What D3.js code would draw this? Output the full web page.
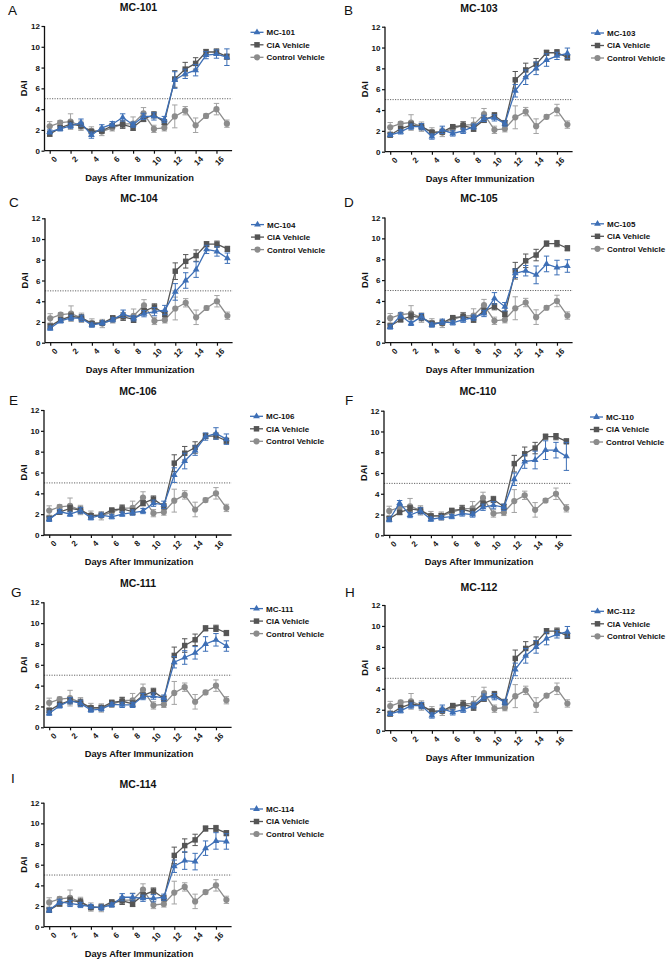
<!DOCTYPE html>
<html>
<head>
<meta charset="utf-8">
<script src="https://cdn.jsdelivr.net/npm/d3@7/dist/d3.min.js"></script>
<style>
  html, body { margin: 0; padding: 0; background: #fff; }
  svg { display: block; font-family: "Liberation Sans", Arial, Helvetica, sans-serif; }
</style>
</head>
<body>
<svg id="chart" width="668" height="963"></svg>
<script>
// ---------------- DATA ----------------
const days = [0, 1, 2, 3, 4, 5, 6, 7, 8, 9, 10, 11, 12, 13, 14, 15, 16, 17];
const xTicks = [0, 2, 4, 6, 8, 10, 12, 14, 16];
const yTicks = [0, 2, 4, 6, 8, 10, 12];
const threshold = 5;

const seriesNames = ["CIA Vehicle", "Control Vehicle"];

const ciaMean = [1.6, 2.2, 2.55, 2.4, 1.85, 1.9, 2.4, 2.5, 2.25, 3.05, 3.45, 2.75, 6.9, 7.85, 8.4, 9.5, 9.5, 9.05];
const ciaErr  = [0.2, 0.2, 0.3, 0.3, 0.2, 0.2, 0.15, 0.35, 0.3, 0.25, 0.3, 0.25, 0.8, 0.65, 0.55, 0.25, 0.3, 0.25];

const ctrlMean = [2.35, 2.7, 2.8, 2.4, 1.9, 1.85, 2.2, 2.55, 2.6, 3.6, 2.1, 2.2, 3.3, 3.85, 2.45, 3.35, 4.0, 2.6];
const ctrlErr  = [0.45, 0.2, 0.75, 0.45, 0.4, 0.4, 0.3, 0.35, 0.65, 0.55, 0.35, 0.3, 1.1, 0.4, 0.7, 0.2, 0.55, 0.35];

const compoundNames = ["MC-101", "MC-103", "MC-104", "MC-105", "MC-106", "MC-110", "MC-111", "MC-112", "MC-114"];
const panelLetters  = ["A", "B", "C", "D", "E", "F", "G", "H", "I"];

const mc101Mean = [1.8, 2.1, 2.4, 2.7, 1.5, 2.2, 2.55, 3.2, 2.5, 3.3, 3.3, 3.0, 6.8, 7.4, 7.75, 9.2, 9.3, 9.0];
const mc101Err  = [0.2, 0.2, 0.25, 0.35, 0.3, 0.3, 0.25, 0.35, 0.25, 0.3, 0.35, 0.3, 0.8, 0.45, 0.55, 0.35, 0.4, 0.8];

const mc103Mean = [1.6, 1.9, 2.4, 2.4, 1.45, 2.1, 1.75, 2.0, 2.4, 3.2, 3.25, 2.7, 5.85, 7.15, 8.0, 8.8, 9.2, 9.45];
const mc103Err  = [0.15, 0.2, 0.25, 0.3, 0.25, 0.35, 0.25, 0.25, 0.25, 0.3, 0.3, 0.25, 0.6, 0.7, 0.6, 0.6, 0.35, 0.5];

const mc104Mean = [1.4, 2.1, 2.4, 2.35, 1.7, 1.9, 2.2, 2.8, 2.35, 2.8, 3.0, 3.15, 4.9, 6.0, 7.05, 9.0, 8.8, 8.15];
const mc104Err  = [0.2, 0.2, 0.25, 0.3, 0.2, 0.2, 0.2, 0.35, 0.25, 0.3, 0.4, 0.45, 0.8, 0.75, 0.75, 0.4, 0.45, 0.5];

const mc105Mean = [1.5, 2.6, 1.85, 2.5, 1.7, 2.0, 1.9, 2.2, 2.4, 2.8, 4.25, 3.45, 6.65, 6.9, 6.5, 7.55, 7.2, 7.35];
const mc105Err  = [0.2, 0.25, 0.2, 0.3, 0.2, 0.25, 0.2, 0.25, 0.25, 0.3, 0.55, 0.4, 0.4, 0.5, 0.85, 0.75, 0.7, 0.6];

const mc106Mean = [1.5, 2.25, 2.0, 2.35, 1.65, 1.9, 1.75, 2.0, 2.15, 2.3, 3.05, 2.9, 5.75, 7.1, 8.1, 9.45, 9.75, 9.2];
const mc106Err  = [0.2, 0.2, 0.2, 0.3, 0.2, 0.2, 0.2, 0.2, 0.25, 0.25, 0.3, 0.35, 0.7, 0.75, 0.45, 0.35, 0.55, 0.5];

const mc110Mean = [1.5, 3.1, 1.95, 2.35, 1.55, 1.7, 1.8, 2.1, 2.0, 2.7, 2.9, 2.7, 5.4, 7.1, 7.25, 8.2, 8.2, 7.6];
const mc110Err  = [0.2, 0.25, 0.25, 0.3, 0.2, 0.2, 0.2, 0.25, 0.25, 0.3, 0.35, 0.3, 0.6, 0.65, 0.85, 0.9, 0.75, 1.35];

const mc111Mean = [1.35, 2.05, 2.55, 2.3, 1.65, 1.75, 2.2, 2.15, 2.15, 2.95, 3.0, 2.8, 6.25, 6.7, 7.15, 8.0, 8.4, 7.8];
const mc111Err  = [0.2, 0.2, 0.3, 0.3, 0.2, 0.2, 0.2, 0.25, 0.25, 0.3, 0.3, 0.3, 0.55, 0.65, 0.6, 0.7, 0.6, 0.5];

const mc112Mean = [1.6, 1.9, 2.4, 2.4, 1.45, 2.1, 1.75, 2.0, 2.4, 3.2, 3.25, 2.7, 5.85, 7.15, 8.0, 8.8, 9.2, 9.45];
const mc112Err  = [0.15, 0.2, 0.25, 0.3, 0.25, 0.35, 0.25, 0.25, 0.25, 0.3, 0.3, 0.25, 0.6, 0.7, 0.6, 0.6, 0.35, 0.5];

const mc114Mean = [1.6, 2.4, 2.25, 2.1, 1.95, 1.85, 2.1, 2.85, 2.85, 2.75, 2.75, 2.85, 5.85, 6.4, 6.3, 7.6, 8.3, 8.25];
const mc114Err  = [0.2, 0.25, 0.3, 0.25, 0.2, 0.25, 0.2, 0.35, 0.35, 0.3, 0.35, 0.3, 0.6, 0.85, 0.8, 0.7, 0.8, 0.75];

const compoundMeans = [mc101Mean, mc103Mean, mc104Mean, mc105Mean, mc106Mean, mc110Mean, mc111Mean, mc112Mean, mc114Mean];
const compoundErrs  = [mc101Err, mc103Err, mc104Err, mc105Err, mc106Err, mc110Err, mc111Err, mc112Err, mc114Err];

// ---------------- LAYOUT (positions only) ----------------
// ax: x of the y-axis line; y12 / y0: pixel of 12 and 0; letterY, titleY: baselines
const layout = [
  { ax: 44.5, y12: 26,    y0: 150.7, letterX: 8,   letterY: 15,    titleY: 11 },
  { ax: 385,  y12: 26.7,  y0: 151.7, letterX: 344, letterY: 15,    titleY: 11.7 },
  { ax: 45,   y12: 218.3, y0: 342.7, letterX: 9,   letterY: 206.5, titleY: 201.7 },
  { ax: 385,  y12: 217.5, y0: 342.7, letterX: 344, letterY: 206.5, titleY: 201.7 },
  { ax: 44,   y12: 410,   y0: 535,   letterX: 9,   letterY: 405,   titleY: 395 },
  { ax: 384,  y12: 410.7, y0: 535.3, letterX: 345, letterY: 405,   titleY: 395 },
  { ax: 44,   y12: 602.3, y0: 727.3, letterX: 11,  letterY: 596.7, titleY: 587.3 },
  { ax: 385,  y12: 605,   y0: 730.7, letterX: 345, letterY: 596.7, titleY: 590.7 },
  { ax: 44,   y12: 802.7, y0: 926.7, letterX: 11,  letterY: 783,   titleY: 788.3 }
];

const COLORS = { mc: "#3d6fb6", cia: "#555555", ctrl: "#8c8c8c", ctrlErr: "#a3a3a3" };
const svg = d3.select("#chart");

function drawSeries(g, x, y, means, errs, color, errColor, symbolType, symSize) {
  const pts = days.map((d, i) => ({ d, v: means[i], e: errs[i] }));
  const line = d3.line().x(p => x(p.d)).y(p => y(p.v));
  const cap = 2.7;
  const eb = g.append("g").attr("stroke", errColor).attr("stroke-width", 1).attr("fill", "none");
  pts.forEach(p => {
    const yt = y(p.v + p.e), yb = y(p.v - p.e), cx = x(p.d);
    eb.append("line").attr("x1", cx).attr("x2", cx).attr("y1", yt).attr("y2", yb);
    eb.append("line").attr("x1", cx - cap).attr("x2", cx + cap).attr("y1", yt).attr("y2", yt);
    eb.append("line").attr("x1", cx - cap).attr("x2", cx + cap).attr("y1", yb).attr("y2", yb);
  });
  g.append("path").datum(pts).attr("d", line).attr("fill", "none")
    .attr("stroke", color).attr("stroke-width", 1.3);
  const sym = d3.symbol().type(symbolType).size(symSize);
  g.append("g").selectAll("path").data(pts).join("path")
    .attr("d", sym)
    .attr("transform", p => `translate(${x(p.d)},${y(p.v)})`)
    .attr("fill", color);
}

compoundNames.forEach((name, k) => {
  const L = layout[k];
  const g = svg.append("g");
  const x = d3.scaleLinear().domain([-0.5, 17.5]).range([L.ax, L.ax + 187.6]);
  const y = d3.scaleLinear().domain([0, 12]).range([L.y0, L.y12]);

  // panel letter
  g.append("text").attr("x", L.letterX).attr("y", L.letterY)
    .attr("font-size", 13.5).attr("font-weight", "normal").attr("fill", "#111")
    .text(panelLetters[k]);
  // title
  g.append("text").attr("x", L.ax + 94).attr("y", L.titleY).attr("text-anchor", "middle")
    .attr("font-size", 10.5).attr("font-weight", "bold").attr("fill", "#111").text(name);

  // threshold dotted line
  g.append("line").attr("x1", x(-0.5)).attr("x2", x(17.5)).attr("y1", y(threshold)).attr("y2", y(threshold))
    .attr("stroke", "#666").attr("stroke-width", 1).attr("stroke-dasharray", "1.2,1.3");

  // y axis
  const yAxis = d3.axisLeft(y).tickValues(yTicks).tickSize(3).tickPadding(1.5);
  const ya = g.append("g").attr("transform", `translate(${L.ax},0)`).call(yAxis);
  ya.select(".domain").attr("stroke", "#111").attr("stroke-width", 1.3).attr("d", `M0,${L.y12}V${L.y0}`);
  ya.selectAll(".tick line").attr("stroke", "#111").attr("stroke-width", 1.2);
  ya.selectAll(".tick text").attr("font-size", 8).attr("font-weight", "bold").attr("fill", "#111")
    .attr("font-family", "Liberation Sans, Arial, sans-serif");

  // x axis
  const xAxis = d3.axisBottom(x).tickValues(xTicks).tickSize(3).tickFormat(d3.format("d"));
  const xa = g.append("g").attr("transform", `translate(0,${L.y0})`).call(xAxis);
  xa.select(".domain").attr("stroke", "#111").attr("stroke-width", 1.3).attr("d", `M${L.ax},0H${L.ax + 187.6}`);
  xa.selectAll(".tick line").attr("stroke", "#111").attr("stroke-width", 1.2);
  xa.selectAll(".tick text").attr("font-size", 8).attr("font-weight", "bold").attr("fill", "#111")
    .attr("font-family", "Liberation Sans, Arial, sans-serif")
    .attr("text-anchor", "end").attr("dy", null).attr("y", null)
    .attr("transform", "translate(3.5,5) rotate(-45)")
    .attr("dy", "0.7em");

  // axis labels
  g.append("text").attr("x", L.ax + 95).attr("y", L.y0 + 30).attr("text-anchor", "middle")
    .attr("font-size", 9.3).attr("font-weight", "bold").attr("fill", "#111").text("Days After Immunization");
  g.append("text").attr("transform", `translate(${L.ax - 17.5},${(L.y0 + L.y12) / 2}) rotate(-90)`)
    .attr("text-anchor", "middle").attr("font-size", 9.3).attr("font-weight", "bold").attr("fill", "#111").text("DAI");

  // series
  const plot = g.append("g");
  drawSeries(plot, x, y, ctrlMean, ctrlErr, COLORS.ctrl, COLORS.ctrlErr, d3.symbolCircle, 30);
  drawSeries(plot, x, y, ciaMean, ciaErr, COLORS.cia, COLORS.cia, d3.symbolSquare, 30);
  drawSeries(plot, x, y, compoundMeans[k], compoundErrs[k], COLORS.mc, COLORS.mc, d3.symbolTriangle, 20);

  // legend
  const legendItems = [
    { label: name, color: COLORS.mc, type: d3.symbolTriangle, size: 20 },
    { label: seriesNames[0], color: COLORS.cia, type: d3.symbolSquare, size: 30 },
    { label: seriesNames[1], color: COLORS.ctrl, type: d3.symbolCircle, size: 30 }
  ];
  const lg = g.append("g");
  legendItems.forEach((it, i) => {
    const cy = L.y12 + 6.3 + i * 12.5;
    lg.append("line").attr("x1", L.ax + 206).attr("x2", L.ax + 219).attr("y1", cy).attr("y2", cy)
      .attr("stroke", it.color).attr("stroke-width", 1.3);
    lg.append("path").attr("d", d3.symbol().type(it.type).size(it.size)())
      .attr("transform", `translate(${L.ax + 212.5},${cy})`).attr("fill", it.color);
    lg.append("text").attr("x", L.ax + 222).attr("y", cy + 2.9)
      .attr("font-size", 8).attr("font-weight", "bold").attr("fill", "#111").text(it.label);
  });
});
</script>
</body>
</html>
